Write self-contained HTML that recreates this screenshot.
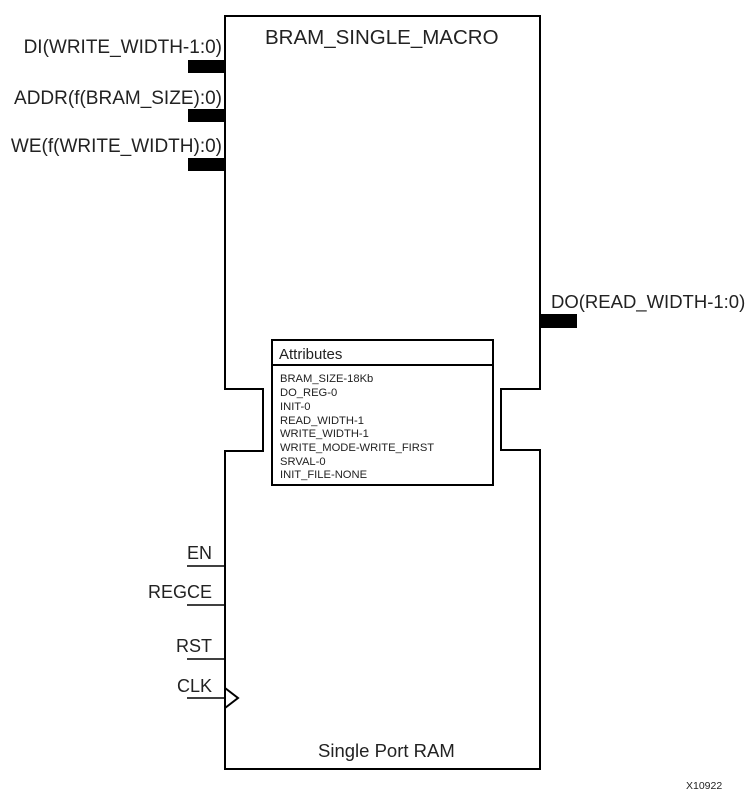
<!DOCTYPE html>
<html><head><meta charset="utf-8"><style>
html,body{margin:0;padding:0;background:#fff;}
svg{display:block;font-family:"Liberation Sans",Arial,sans-serif;}
</style></head><body>
<svg width="749" height="795" viewBox="0 0 749 795" xmlns="http://www.w3.org/2000/svg">
<g fill="none" stroke="#000" stroke-width="2">
<path d="M225,16 H540 V389 H501 V450 H540 V769 H225 V451 H263 V389 H225 Z"/>
<rect x="272" y="340" width="221" height="145"/>
<line x1="272" y1="365" x2="493" y2="365"/>
</g>
<g fill="#000">
<rect x="188" y="60" width="37" height="13"/>
<rect x="188" y="109" width="37" height="13"/>
<rect x="188" y="158" width="37" height="13"/>
<rect x="540" y="314" width="37" height="14"/>
</g>
<g stroke="#000" stroke-width="1.5" fill="none">
<line x1="187" y1="566" x2="225" y2="566"/>
<line x1="187" y1="605" x2="225" y2="605"/>
<line x1="187" y1="659" x2="225" y2="659"/>
<line x1="187" y1="698" x2="225" y2="698"/>
<path d="M225,688 L238,698 L225,708" stroke-width="2"/>
</g>
<g font-size="19" fill="#222" text-anchor="end">
<text x="222" y="53">DI(WRITE_WIDTH-1:0)</text>
<text x="222" y="104">ADDR(f(BRAM_SIZE):0)</text>
<text x="222" y="152">WE(f(WRITE_WIDTH):0)</text>
</g>
<g font-size="18" fill="#222" text-anchor="end">
<text x="212" y="559">EN</text>
<text x="212" y="598">REGCE</text>
<text x="212" y="652">RST</text>
<text x="212" y="692">CLK</text>
</g>
<text x="551" y="308" font-size="18.5" fill="#222">DO(READ_WIDTH-1:0)</text>
<text x="265" y="44" font-size="20.5" fill="#222">BRAM_SINGLE_MACRO</text>
<text x="318" y="757" font-size="18.5" fill="#222">Single  Port RAM</text>
<text x="279" y="359" font-size="15" fill="#222">Attributes</text>
<g font-size="11.2" fill="#222">
<text x="280" y="382">BRAM_SIZE-18Kb</text>
<text x="280" y="396">DO_REG-0</text>
<text x="280" y="410">INIT-0</text>
<text x="280" y="424">READ_WIDTH-1</text>
<text x="280" y="437">WRITE_WIDTH-1</text>
<text x="280" y="451">WRITE_MODE-WRITE_FIRST</text>
<text x="280" y="465">SRVAL-0</text>
<text x="280" y="478">INIT_FILE-NONE</text>
</g>
<text x="686" y="789" font-size="10.5" fill="#222">X10922</text>
</svg>
</body></html>
